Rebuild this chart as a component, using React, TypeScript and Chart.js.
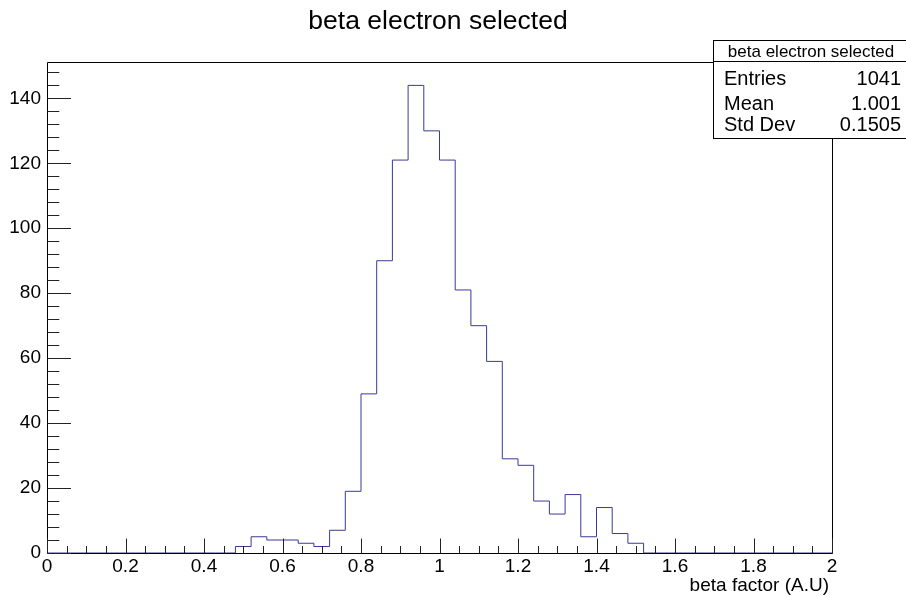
import React, { useEffect, useRef } from "react";
import { Chart, registerables } from "chart.js";

Chart.register(...registerables);

// Histogram definition: 50 bins of width 0.04 starting at 0
const histTitle = "beta electron selected";
const xAxisTitle = "beta factor (A.U)";
const binLow = 0;
const binWidth = 0.04;
const binCounts = [
  0, 0, 0, 0, 0, 0, 0, 0, 0, 0, 0, 0,
  2, 5, 4, 4, 3, 2, 7, 19, 49, 90, 121, 144, 130, 121, 81, 70, 59, 29, 27, 16, 12, 18, 5, 14, 6, 3,
  0, 0, 0, 0, 0, 0, 0, 0, 0, 0, 0, 0,
];

const xMin = 0;
const xMax = 2;
const yMax = 151.2;
const xTickValues = [0, 0.2, 0.4, 0.6, 0.8, 1, 1.2, 1.4, 1.6, 1.8, 2];
const yTickValues = [0, 20, 40, 60, 80, 100, 120, 140];

const statsLabels = ["Entries", "Mean", "Std Dev"];
const statsValues = ["1041", "1.001", "0.1505"];

const FONT = '"Liberation Sans", Arial, Helvetica, sans-serif';
const LINE_COLOR = "rgb(58, 58, 150)";

// Step outline points: left edge of every bin, plus the upper edge of the last bin
const stepPoints = [
  ...binCounts.map((c, i) => ({ x: binLow + i * binWidth, y: c })),
  { x: binLow + binCounts.length * binWidth, y: binCounts[binCounts.length - 1] },
];

const rootDecorations = {
  id: "rootDecorations",
  afterDraw(chart: any) {
    const ctx = chart.ctx as CanvasRenderingContext2D;
    const xs = chart.scales.x;
    const ys = chart.scales.y;
    const { left, right, top, bottom } = chart.chartArea;
    const L = Math.round(left) + 0.5;
    const R = Math.round(right) + 0.5;
    const T = Math.round(top) + 0.5;
    const B = Math.round(bottom) + 0.5;

    ctx.save();
    ctx.lineWidth = 1;
    ctx.strokeStyle = "#000";

    // frame
    ctx.beginPath();
    ctx.moveTo(L, T);
    ctx.lineTo(R, T);
    ctx.lineTo(R, B);
    ctx.lineTo(L, B);
    ctx.closePath();
    ctx.stroke();

    // x ticks (inside, pointing up): major every 0.2, minor every 0.05
    ctx.strokeStyle = "#222";
    ctx.beginPath();
    for (let k = 0; k <= 40; k++) {
      const v = k * 0.05;
      const px = Math.round(xs.getPixelForValue(v)) + 0.5;
      const len = k % 4 === 0 ? 15 : 7.5;
      ctx.moveTo(px, B);
      ctx.lineTo(px, B - len);
    }
    // y ticks (inside, pointing right): major every 20, minor every 4
    for (let k = 0; k * 4 <= yMax; k++) {
      const v = k * 4;
      const py = Math.round(ys.getPixelForValue(v)) + 0.5;
      const len = k % 5 === 0 ? 23.5 : 11.8;
      ctx.moveTo(L, py);
      ctx.lineTo(L + len, py);
    }
    ctx.stroke();

    // title
    ctx.fillStyle = "#000";
    ctx.font = `26.5px ${FONT}`;
    ctx.textAlign = "center";
    ctx.textBaseline = "alphabetic";
    ctx.fillText(histTitle, 438, 29);

    // x axis title
    ctx.font = `19px ${FONT}`;
    ctx.textAlign = "right";
    ctx.fillText(xAxisTitle, 829, 591);

    // statistics box
    const bx = 713.5;
    const by = 40.5;
    const bw = 200;
    const bh = 98;
    ctx.fillStyle = "#fff";
    ctx.fillRect(bx, by, bw, bh);
    ctx.strokeStyle = "#000";
    ctx.strokeRect(bx, by, bw, bh);
    ctx.beginPath();
    ctx.moveTo(bx, 61.5);
    ctx.lineTo(bx + bw, 61.5);
    ctx.stroke();

    ctx.fillStyle = "#000";
    ctx.font = `17px ${FONT}`;
    ctx.textAlign = "center";
    ctx.fillText(histTitle, 811, 57);

    const rowBaselines = [85, 110, 131];
    ctx.font = `20px ${FONT}`;
    statsLabels.forEach((lab, i) => {
      ctx.textAlign = "left";
      ctx.fillText(lab, 724, rowBaselines[i]);
      ctx.textAlign = "right";
      ctx.fillText(statsValues[i], 901, rowBaselines[i]);
    });

    ctx.restore();
  },
};

export default function App() {
  const canvasRef = useRef<HTMLCanvasElement | null>(null);

  useEffect(() => {
    if (!canvasRef.current) return;
    const chart = new Chart(canvasRef.current, {
      type: "line",
      data: {
        datasets: [
          {
            label: histTitle,
            data: stepPoints,
            stepped: "before",
            borderColor: LINE_COLOR,
            borderWidth: 1,
            pointRadius: 0,
            fill: false,
          },
        ],
      },
      options: {
        responsive: false,
        animation: false,
        devicePixelRatio: 1,
        layout: { padding: { top: 62, right: 74, left: 0, bottom: 0 } },
        plugins: {
          legend: { display: false },
          title: { display: false },
          tooltip: { enabled: false },
        },
        scales: {
          x: {
            type: "linear",
            min: xMin,
            max: xMax,
            grid: { display: false, drawTicks: false },
            border: { display: false },
            afterBuildTicks: (s: any) => {
              s.ticks = xTickValues.map((v) => ({ value: v }));
            },
            afterFit: (s: any) => {
              s.height = 44;
            },
            ticks: {
              autoSkip: false,
              maxRotation: 0,
              padding: 2,
              color: "#000",
              font: { family: FONT, size: 19 },
              callback: (v: any) => String(Math.round(Number(v) * 10) / 10),
            },
          },
          y: {
            type: "linear",
            min: 0,
            max: yMax,
            grid: { display: false, drawTicks: false },
            border: { display: false },
            afterBuildTicks: (s: any) => {
              s.ticks = yTickValues.map((v) => ({ value: v }));
            },
            afterFit: (s: any) => {
              s.width = 47;
            },
            ticks: {
              autoSkip: false,
              padding: 6,
              color: "#000",
              font: { family: FONT, size: 19 },
              callback: (v: any) => String(v),
            },
          },
        },
      },
      plugins: [rootDecorations],
    });
    return () => chart.destroy();
  }, []);

  return (
    <div style={{ position: "absolute", left: 0, top: 0, width: 906, height: 597, background: "#fff" }}>
      <canvas ref={canvasRef} width={906} height={597} style={{ display: "block", width: 906, height: 597 }} />
    </div>
  );
}
